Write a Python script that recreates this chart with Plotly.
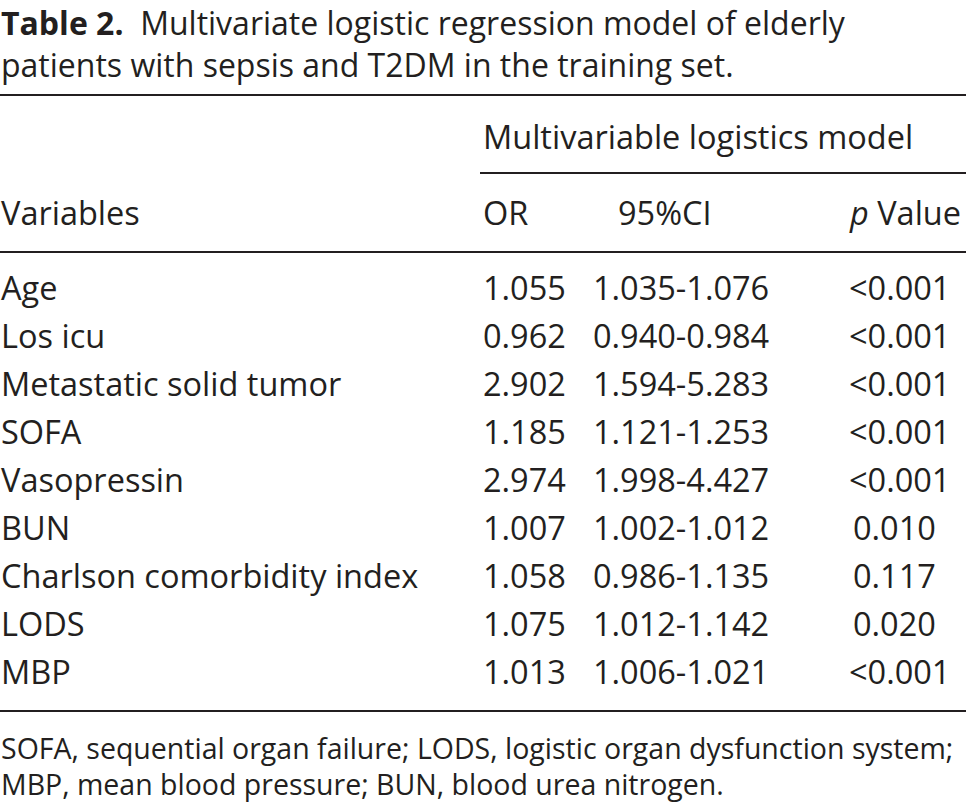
import plotly.graph_objects as go

# table content
variables = ["Age", "Los icu", "Metastatic solid tumor", "SOFA", "Vasopressin",
             "BUN", "Charlson comorbidity index", "LODS", "MBP"]
odds_ratio = ["1.055", "0.962", "2.902", "1.185", "2.974", "1.007", "1.058", "1.075", "1.013"]
ci_95 = ["1.035-1.076", "0.940-0.984", "1.594-5.283", "1.121-1.253", "1.998-4.427",
         "1.002-1.012", "0.986-1.135", "1.012-1.142", "1.006-1.021"]
p_values = ["<0.001", "<0.001", "<0.001", "<0.001", "<0.001", "0.010", "0.117", "0.020", "<0.001"]

title_bold = "Table 2."
title_text = ["Multivariate logistic regression model of elderly",
              "patients with sepsis and T2DM in the training set."]
group_header = "Multivariable logistics model"
col_headers = ["Variables", "OR", "95%CI", "<i>p</i> Value"]
footnote = ["SOFA, sequential organ failure; LODS, logistic organ dysfunction system;",
            "MBP, mean blood pressure; BUN, blood urea nitrogen."]

FONT = "Open Sans"
INK = "#231f20"
W, H = 966, 807

# column x (page pixels) and row y
col_x = [0, 482, 592, 848]
head_x = [0, 482, 617, 848]
row_y0, row_dy = 287, 48.1

fig = go.Figure()

def txt(x, y, s, size=32.5, anchor="middle"):
    fig.add_annotation(x=x, y=y, text=s, showarrow=False, xanchor="left",
                       yanchor=anchor, borderpad=0, align="left",
                       font=dict(family=FONT, size=size, color=INK))

# title as one block so the two lines share a text box
txt(0, 0, f"<b>{title_bold}</b>  {title_text[0]}<br>{title_text[1]}", 32, "top")
txt(482, 136, group_header)
for x, h in zip(head_x, col_headers):
    txt(x, 212, h)

for i, (v, o, c, p) in enumerate(zip(variables, odds_ratio, ci_95, p_values)):
    y = row_y0 + i * row_dy
    txt(col_x[0], y, v)
    txt(col_x[1], y, o)
    txt(col_x[2], y, c)
    txt(col_x[3] + (0 if p.startswith("<") else 4), y, p)

txt(0, 748, footnote[0], 28.5)
txt(0, 784, footnote[1], 28.5)

rules = [(0, 95), (480, 173), (0, 252), (0, 711)]
for x0, y in rules:
    fig.add_shape(type="line", x0=x0, x1=W, y0=y, y1=y, line=dict(color=INK, width=2))

fig.update_xaxes(range=[0, W], visible=False)
fig.update_yaxes(range=[H, 0], visible=False)
fig.update_layout(width=W, height=H, margin=dict(l=0, r=0, t=0, b=0),
                  plot_bgcolor="white", paper_bgcolor="white", showlegend=False)

fig.write_html("out.html", config={"displayModeBar": False},
               post_script="document.body.style.margin='0';")
